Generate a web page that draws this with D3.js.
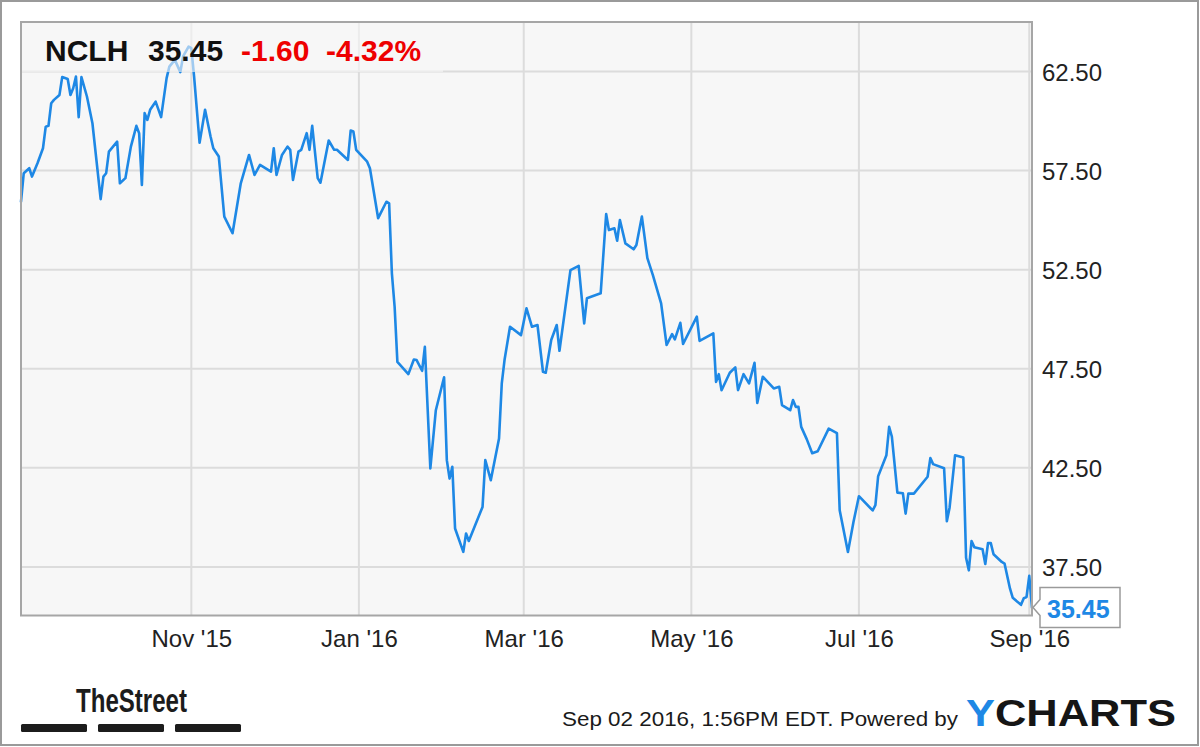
<!DOCTYPE html>
<html>
<head>
<meta charset="utf-8">
<script src="https://cdn.jsdelivr.net/npm/d3@7"></script>
<style>
  html, body { margin: 0; padding: 0; background: #ffffff; }
  svg { display: block; }
  text { font-family: "Liberation Sans", Arial, sans-serif; }
</style>
</head>
<body>
<svg id="chart" width="1200" height="747"></svg>
<script>
// ---- data ----
const ticker = "NCLH";
const lastPrice = "35.45";
const change = "-1.60";
const changePct = "-4.32%";
const footerText = "Sep 02 2016, 1:56PM EDT.  Powered by";

const dates = [
  "2015-08-31","2015-09-01","2015-09-03","2015-09-04","2015-09-06","2015-09-08","2015-09-09","2015-09-10","2015-09-11","2015-09-12",
  "2015-09-14","2015-09-15","2015-09-17","2015-09-18","2015-09-19","2015-09-20","2015-09-21","2015-09-22","2015-09-24","2015-09-26",
  "2015-09-29","2015-09-30","2015-10-01","2015-10-02","2015-10-05","2015-10-06","2015-10-08","2015-10-10","2015-10-12","2015-10-13",
  "2015-10-14","2015-10-15","2015-10-16","2015-10-17","2015-10-19","2015-10-21","2015-10-23","2015-10-24","2015-10-26","2015-10-28",
  "2015-10-29","2015-10-31","2015-11-01","2015-11-02","2015-11-04","2015-11-06","2015-11-08","2015-11-09","2015-11-11","2015-11-13",
  "2015-11-16","2015-11-19","2015-11-22","2015-11-24","2015-11-26","2015-11-30","2015-12-01","2015-12-02","2015-12-04","2015-12-06",
  "2015-12-07","2015-12-08","2015-12-10","2015-12-11","2015-12-13","2015-12-14","2015-12-15","2015-12-17","2015-12-18","2015-12-21",
  "2015-12-23","2015-12-24","2015-12-28","2015-12-29","2015-12-30","2015-12-31","2016-01-04","2016-01-05","2016-01-08","2016-01-11",
  "2016-01-12","2016-01-13","2016-01-14","2016-01-15","2016-01-19","2016-01-21","2016-01-22","2016-01-24","2016-01-25","2016-01-27",
  "2016-01-29","2016-02-01","2016-02-02","2016-02-03","2016-02-04","2016-02-05","2016-02-08","2016-02-09","2016-02-10","2016-02-15",
  "2016-02-16","2016-02-18","2016-02-21","2016-02-22","2016-02-23","2016-02-25","2016-02-29","2016-03-02","2016-03-04","2016-03-06",
  "2016-03-08","2016-03-09","2016-03-11","2016-03-13","2016-03-14","2016-03-18","2016-03-21","2016-03-23","2016-03-24","2016-03-29",
  "2016-03-31","2016-04-01","2016-04-03","2016-04-04","2016-04-05","2016-04-07","2016-04-10","2016-04-11","2016-04-13","2016-04-15",
  "2016-04-17","2016-04-20","2016-04-22","2016-04-24","2016-04-25","2016-04-27","2016-04-28","2016-05-03","2016-05-04","2016-05-09",
  "2016-05-10","2016-05-11","2016-05-12","2016-05-15","2016-05-17","2016-05-18","2016-05-20","2016-05-22","2016-05-24","2016-05-25",
  "2016-05-27","2016-05-31","2016-06-02","2016-06-03","2016-06-06","2016-06-07","2016-06-08","2016-06-09","2016-06-10","2016-06-12",
  "2016-06-14","2016-06-16","2016-06-20","2016-06-23","2016-06-24","2016-06-27","2016-06-29","2016-07-01","2016-07-06","2016-07-07",
  "2016-07-08","2016-07-11","2016-07-12","2016-07-13","2016-07-15","2016-07-17","2016-07-18","2016-07-19","2016-07-21","2016-07-26",
  "2016-07-27","2016-07-28","2016-08-01","2016-08-02","2016-08-03","2016-08-05","2016-08-08","2016-08-09","2016-08-10","2016-08-11",
  "2016-08-12","2016-08-15","2016-08-16","2016-08-17","2016-08-18","2016-08-19","2016-08-22","2016-08-23","2016-08-25","2016-08-26",
  "2016-08-29","2016-08-30","2016-08-31","2016-09-01","2016-09-02"
];
const prices = [
  55.93,57.37,57.62,57.20,57.87,58.63,59.72,59.76,60.90,61.07,
  61.32,62.22,62.12,61.32,61.66,62.25,60.20,62.22,61.24,59.89,
  56.06,57.20,57.37,58.46,58.96,56.86,57.12,58.71,59.76,59.39,
  56.78,60.40,60.06,60.57,60.98,60.20,62.17,62.75,63.09,62.47,
  63.26,63.76,63.68,62.25,58.91,60.57,59.22,58.63,58.21,55.18,
  54.34,56.86,58.29,57.28,57.79,57.45,58.63,57.28,58.29,58.71,
  58.55,57.03,58.46,58.55,59.39,58.55,59.76,57.12,56.89,59.02,
  58.55,58.55,58.04,59.52,59.47,58.55,57.95,57.62,55.10,55.93,
  55.85,52.32,50.63,47.85,47.23,47.97,47.94,47.40,48.61,42.47,
  45.41,47.07,42.89,41.96,42.55,39.44,38.26,39.19,38.81,40.53,
  42.89,41.88,43.98,46.76,47.94,49.62,49.20,50.55,49.62,49.71,
  47.35,47.30,48.95,49.71,48.41,52.48,52.69,49.79,51.06,51.31,
  55.31,54.50,54.59,53.96,55.01,53.83,53.53,53.75,55.18,53.08,
  52.23,50.80,48.70,49.25,48.98,49.82,48.75,50.13,48.91,49.29,
  46.84,47.23,46.42,47.30,47.57,46.42,47.23,46.76,47.80,45.78,
  47.10,46.51,46.59,45.67,45.41,45.92,45.58,45.58,44.57,43.95,
  43.24,43.34,44.48,44.25,40.36,38.26,39.76,41.07,40.35,40.62,
  42.08,43.14,44.57,44.07,41.25,41.22,40.19,41.21,41.20,42.05,
  42.99,42.69,42.48,39.81,40.49,43.14,43.02,37.96,37.33,38.81,
  38.50,38.39,37.65,38.71,38.70,38.14,37.75,37.67,36.40,35.94,
  35.59,35.92,35.98,37.05,35.45
];
const xTickDates = ["2015-11-01","2016-01-01","2016-03-01","2016-05-01","2016-07-01","2016-09-01"];
const yTickValues = [37.5, 42.5, 47.5, 52.5, 57.5, 62.5];
const xDomain = ["2015-08-31","2016-09-02"];
const yDomain = [35.05, 65.0];

// ---- layout ----
const W = 1200, H = 747;
const plot = { left: 21, top: 22, right: 1032, bottom: 615.5 };
const parse = d3.timeParse("%Y-%m-%d");
const data = dates.map((d, i) => ({ date: parse(d), value: prices[i] }));

const svg = d3.select("#chart");
const x = d3.scaleTime().domain(xDomain.map(parse)).range([plot.left, plot.right]);
const y = d3.scaleLinear().domain(yDomain).range([plot.bottom, plot.top]);

const lineColor = "#1e88e5";

// outer frame
svg.append("rect").attr("x", 1).attr("y", 1).attr("width", W - 3).attr("height", H - 3)
  .attr("fill", "#ffffff").attr("stroke", "#9a9a9a").attr("stroke-width", 2);

// plot background
svg.append("rect").attr("x", plot.left).attr("y", plot.top)
  .attr("width", plot.right - plot.left).attr("height", plot.bottom - plot.top)
  .attr("fill", "#f7f7f7");

// grid
const grid = svg.append("g");
grid.selectAll("line.h").data(yTickValues).enter().append("line")
  .attr("x1", plot.left).attr("x2", plot.right)
  .attr("y1", d => y(d)).attr("y2", d => y(d))
  .attr("stroke", "#dcdcdc").attr("stroke-width", 2);
grid.selectAll("line.v").data(xTickDates.map(parse)).enter().append("line")
  .attr("y1", plot.top).attr("y2", plot.bottom)
  .attr("x1", d => x(d)).attr("x2", d => x(d))
  .attr("stroke", "#dcdcdc").attr("stroke-width", 2);

// price line
const line = d3.line().x(d => x(d.date)).y(d => y(d.value));
svg.append("path").datum(data).attr("d", line)
  .attr("fill", "none").attr("stroke", lineColor).attr("stroke-width", 2.6)
  .attr("stroke-linejoin", "round").attr("stroke-linecap", "round");

// header box (semi-transparent)
svg.append("rect").attr("x", plot.left).attr("y", plot.top).attr("width", 422).attr("height", 50)
  .attr("fill", "#f7f7f7").attr("fill-opacity", 0.6);

// plot frame
svg.append("rect").attr("x", plot.left).attr("y", plot.top)
  .attr("width", plot.right - plot.left).attr("height", plot.bottom - plot.top)
  .attr("fill", "none").attr("stroke", "#a6a6a6").attr("stroke-width", 2);

// header text
const header = svg.append("text").attr("y", 61).attr("font-size", 30).attr("font-weight", "bold");
header.append("tspan").attr("x", 45).attr("fill", "#111").text(ticker);
header.append("tspan").attr("x", 148).attr("fill", "#111").text(lastPrice);
header.append("tspan").attr("x", 241).attr("fill", "#ee0000").text(change);
header.append("tspan").attr("x", 326).attr("fill", "#ee0000").text(changePct);

// y axis labels
const yAxis = d3.axisRight(y).tickValues(yTickValues).tickFormat(d3.format(".2f")).tickSize(0).tickPadding(0);
const gy = svg.append("g").attr("transform", `translate(${plot.right + 10},0)`).call(yAxis);
gy.select(".domain").remove();
gy.selectAll("text").attr("font-size", 24).attr("fill", "#222")
  .attr("font-family", "'Liberation Sans', Arial, sans-serif").attr("dy", "0.36em");

// x axis labels
const xAxis = d3.axisBottom(x).tickValues(xTickDates.map(parse)).tickFormat(d3.timeFormat("%b '%y")).tickSize(0).tickPadding(0);
const gx = svg.append("g").attr("transform", `translate(0,${plot.bottom + 14})`).call(xAxis);
gx.select(".domain").remove();
gx.selectAll("text").attr("font-size", 24).attr("fill", "#222")
  .attr("font-family", "'Liberation Sans', Arial, sans-serif").attr("dy", "0.71em");

// last price tag
const last = data[data.length - 1];
const ty = y(last.value);
const tipX = x(last.date) + 1;
const bx = 1040, bw = 80, bh = 40;
const tag = d3.path();
tag.moveTo(tipX, ty);
tag.lineTo(bx, ty - 8);
tag.lineTo(bx, ty - 20);
tag.lineTo(bx + bw, ty - 20);
tag.lineTo(bx + bw, ty + bh - 20);
tag.lineTo(bx, ty + bh - 20);
tag.lineTo(bx, ty + 8);
tag.closePath();
svg.append("path").attr("d", tag.toString()).attr("fill", "#ffffff").attr("stroke", "#9a9a9a").attr("stroke-width", 1.5);
svg.append("text").attr("x", bx + 7).attr("y", ty + 10).attr("font-size", 25).attr("font-weight", "bold")
  .attr("fill", lineColor).text(d3.format(".2f")(last.value));

// TheStreet logo
svg.append("text").attr("x", 76).attr("y", 712).attr("font-size", 34).attr("font-weight", "bold")
  .attr("fill", "#1c1c1c").attr("textLength", 111).attr("lengthAdjust", "spacingAndGlyphs")
  .text("TheStreet");
const barsX = [21, 98, 175];
svg.selectAll("rect.bar").data(barsX).enter().append("rect")
  .attr("x", d => d).attr("y", 724).attr("width", 66).attr("height", 8).attr("rx", 1.5)
  .attr("fill", "#1c1c1c");

// footer
svg.append("text").attr("x", 562).attr("y", 726).attr("font-size", 20).attr("fill", "#1a1a1a")
  .attr("textLength", 396).attr("lengthAdjust", "spacingAndGlyphs").text(footerText);
const yc = svg.append("text").attr("x", 966).attr("y", 726).attr("font-size", 37).attr("font-weight", "bold")
  .attr("textLength", 210).attr("lengthAdjust", "spacingAndGlyphs");
yc.append("tspan").attr("fill", lineColor).text("Y");
yc.append("tspan").attr("fill", "#151515").text("CHARTS");
</script>
</body>
</html>
